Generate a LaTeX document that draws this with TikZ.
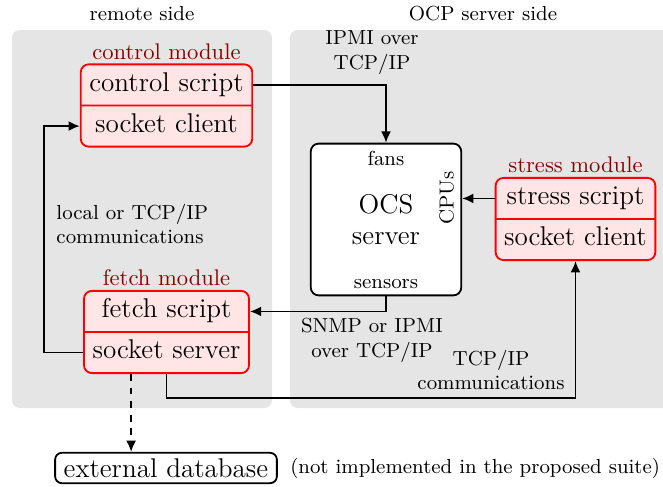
\documentclass[tikz,border=0pt]{standalone}
\usepackage{amsmath}
\usepackage{xcolor}
\usepackage{tikz}
\usetikzlibrary{positioning,shapes.multipart,arrows.meta}

\begin{document}
\begin{tikzpicture}[x=0.1555cm, y=0.1555cm,
  panel/.style={fill=gray!20, rounded corners=3.5pt},
  module/.style={rectangle split, rectangle split parts=2, draw=red, thick, fill=red!10,
    rounded corners=3.5pt, font=\large, inner xsep=3.8pt, inner ysep=1.7pt},
  modtitle/.style={text=red!55!black, inner sep=1.5pt},
  server/.style={draw, thick, fill=white, rounded corners=3.5pt, font=\large, align=center,
    minimum width=2.34cm, minimum height=2.36cm},
  infobox/.style={draw, thick, rounded corners=3pt, font=\large, inner xsep=3.8pt, inner ysep=2.5pt},
  smalltext/.style={font=\small},
  conn/.style={thick, -{Latex[length=5pt,width=4.4pt]}}
]
\useasboundingbox (0,0) rectangle (66.3,48.6);

% Draw the two sides
\fill[panel] (1.2,7.8) rectangle (27.2,45.6);
\fill[panel] (29.0,7.8) rectangle (70,45.6);
\node[smalltext] (remote) at (14.2,47.2) {remote side};
\node[smalltext] (ocp) at (48.3,47.2) {OCP server side};

% Draw the modules
\node[module, label={[modtitle]above:control module}] (ctrl) at (16.65,38.05)
  {control script\strut \nodepart{two} socket client\strut};
\node[module, label={[modtitle]above:fetch module}] (fetch) at (16.65,15.4)
  {fetch script\strut \nodepart{two} socket server\strut};
\node[module, label={[modtitle]above:stress module}] (stress) at (57.55,26.7)
  {stress script\strut \nodepart{two} socket client\strut};

% Draw the server
\node[server] (ocs) at (38.6,26.65) {OCS\\server};
\node[smalltext, below=0pt of ocs.north] (fans) {fans};
\node[smalltext, above=0pt of ocs.south] (sensors) {sensors};
\node[smalltext, rotate=90, anchor=south] (cpus) at ([yshift=0.33cm]ocs.east) {CPUs};

% Draw the database
\node[infobox] (db) at (16.6,1.8) {external database};
\node[smalltext, right=2pt of db] (dbnote) {(not implemented in the proposed suite)};

% Draw the connections
\draw[conn] (ctrl.text east) -| (ocs.north);
\draw[conn] (stress.text west) -- (stress.text west -| ocs.east);
\draw[conn] (ocs.south) |- (fetch.text east);
\draw[conn] (fetch.two west) -- ++(-3.9,0) |- (ctrl.two west);
\draw[conn] (fetch.south) -- ++(0,-2.4) -| (stress.south);
\coordinate (dbtap) at ([xshift=-0.55cm]fetch.south);
\draw[conn, dashed] (dbtap) -- (dbtap |- db.north);

% Add labels
\node[smalltext, align=center] (ipmi) at (37.2,43.3) {IPMI over\\TCP/IP};
\node[smalltext, align=center] (snmp) at (37.2,14.6) {SNMP or IPMI\\over TCP/IP};
\node[smalltext, align=left, anchor=west] (local) at (4.85,26.2) {local or TCP/IP\\communications};
\node[smalltext, align=center] (tcp) at (49.1,11.6) {TCP/IP\\communications};

\end{tikzpicture}
\end{document}
